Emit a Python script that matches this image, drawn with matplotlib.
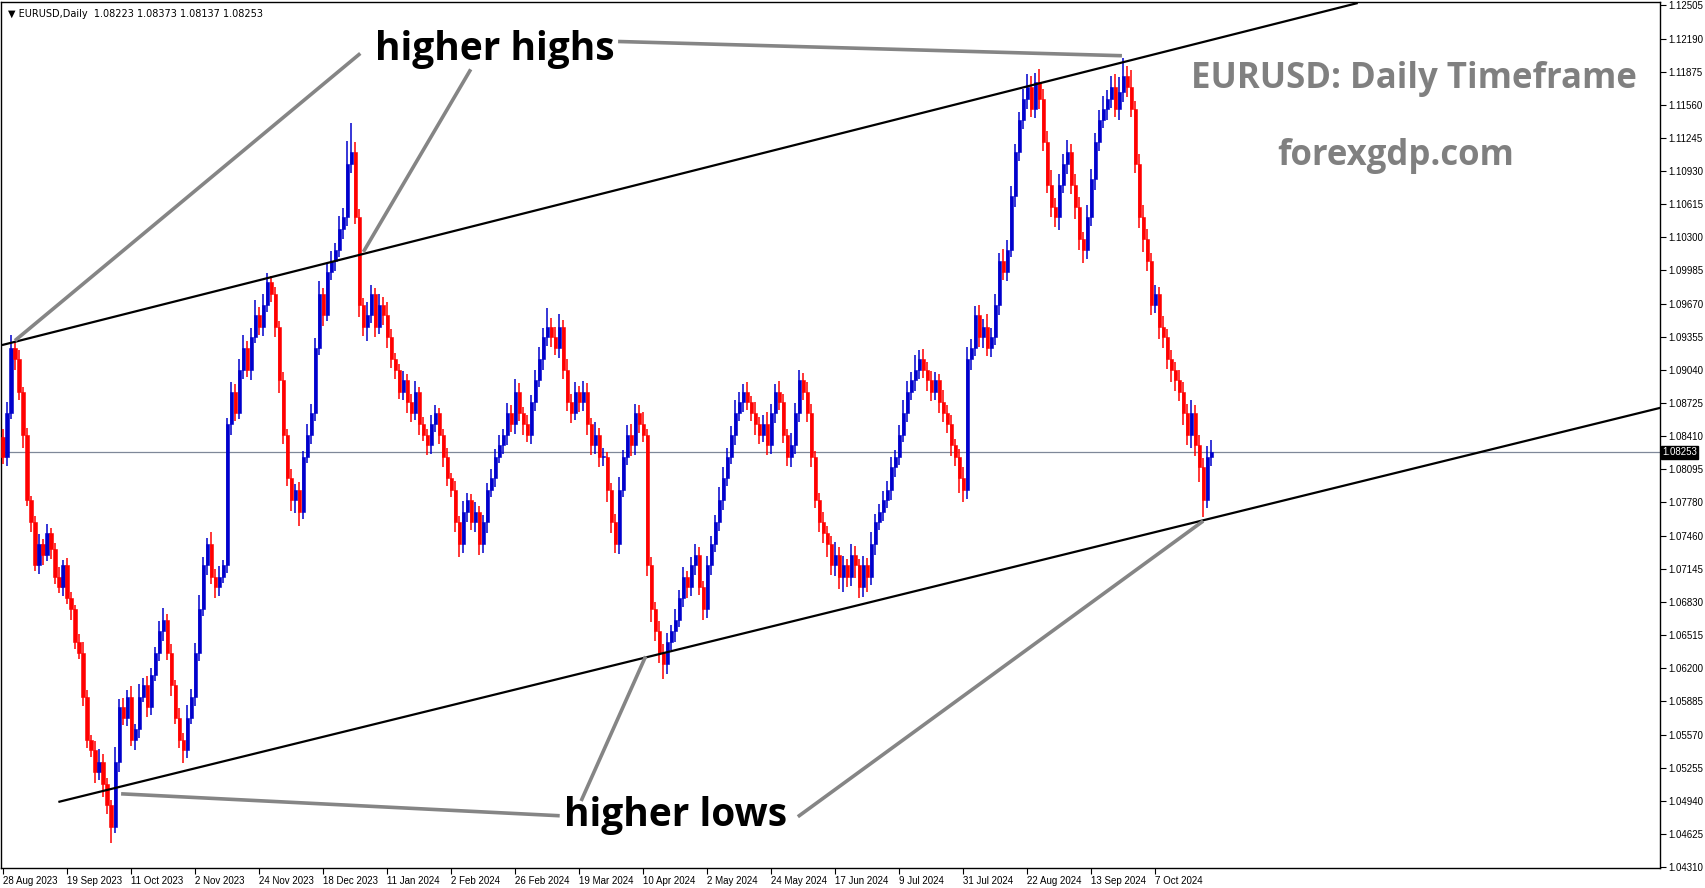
import numpy as np
import matplotlib.pyplot as plt

# daily closes, EURUSD, 28 Aug 2023 .. 25 Oct 2024
closes = [
    1.0821, 1.0863, 1.0925, 1.0914, 1.0883, 1.0842, 1.0780, 1.0759, 1.0718, 1.0738,
    1.0728, 1.0749, 1.0733, 1.0707, 1.0697, 1.0718, 1.0687, 1.0676, 1.0645, 1.0635,
    1.0593, 1.0552, 1.0542, 1.0521, 1.0531, 1.0510, 1.0490, 1.0469, 1.0531, 1.0583,
    1.0573, 1.0593, 1.0552, 1.0562, 1.0593, 1.0604, 1.0583, 1.0614, 1.0635, 1.0655,
    1.0666, 1.0635, 1.0604, 1.0573, 1.0552, 1.0542, 1.0573, 1.0593, 1.0635, 1.0676,
    1.0718, 1.0738, 1.0707, 1.0697, 1.0707, 1.0718, 1.0852, 1.0883, 1.0863, 1.0904,
    1.0925, 1.0904, 1.0935, 1.0956, 1.0945, 1.0966, 1.0987, 1.0976, 1.0945, 1.0894,
    1.0842, 1.0801, 1.0780, 1.0790, 1.0769, 1.0821, 1.0842, 1.0863, 1.0925, 1.0976,
    1.0956, 1.0997, 1.1007, 1.1018, 1.1038, 1.1049, 1.1100, 1.1111, 1.1049, 1.0966,
    1.0945, 1.0956, 1.0976, 1.0945, 1.0966, 1.0956, 1.0935, 1.0914, 1.0904, 1.0883,
    1.0894, 1.0873, 1.0863, 1.0883, 1.0852, 1.0842, 1.0832, 1.0852, 1.0863, 1.0842,
    1.0821, 1.0801, 1.0790, 1.0759, 1.0738, 1.0769, 1.0780, 1.0759, 1.0769, 1.0738,
    1.0759, 1.0790, 1.0801, 1.0821, 1.0832, 1.0842, 1.0863, 1.0852, 1.0883, 1.0863,
    1.0852, 1.0842, 1.0873, 1.0894, 1.0914, 1.0935, 1.0945, 1.0935, 1.0925, 1.0945,
    1.0904, 1.0873, 1.0863, 1.0883, 1.0873, 1.0883, 1.0852, 1.0832, 1.0842, 1.0821,
    1.0821, 1.0790, 1.0759, 1.0738, 1.0790, 1.0821, 1.0842, 1.0832, 1.0863, 1.0852,
    1.0842, 1.0718, 1.0676, 1.0655, 1.0635, 1.0624, 1.0645, 1.0655, 1.0666, 1.0687,
    1.0707, 1.0697, 1.0718, 1.0728, 1.0697, 1.0676, 1.0718, 1.0738, 1.0759, 1.0780,
    1.0801, 1.0821, 1.0842, 1.0863, 1.0873, 1.0883, 1.0873, 1.0863, 1.0852, 1.0842,
    1.0852, 1.0832, 1.0863, 1.0883, 1.0873, 1.0842, 1.0821, 1.0832, 1.0863, 1.0894,
    1.0883, 1.0863, 1.0821, 1.0780, 1.0759, 1.0749, 1.0738, 1.0718, 1.0728, 1.0707,
    1.0718, 1.0707, 1.0728, 1.0718, 1.0697, 1.0718, 1.0707, 1.0738, 1.0759, 1.0769,
    1.0780, 1.0790, 1.0811, 1.0821, 1.0842, 1.0863, 1.0883, 1.0894, 1.0904, 1.0914,
    1.0904, 1.0894, 1.0883, 1.0894, 1.0873, 1.0863, 1.0852, 1.0832, 1.0821, 1.0801,
    1.0790, 1.0914, 1.0925, 1.0956, 1.0935, 1.0945, 1.0925, 1.0935, 1.0966, 1.1007,
    1.0997, 1.1018, 1.1069, 1.1111, 1.1142, 1.1162, 1.1173, 1.1152, 1.1178, 1.1162,
    1.1121, 1.1080, 1.1059, 1.1049, 1.1080, 1.1100, 1.1111, 1.1080, 1.1059, 1.1028,
    1.1018, 1.1049, 1.1085, 1.1121, 1.1142, 1.1152, 1.1162, 1.1173, 1.1152, 1.1168,
    1.1183, 1.1173, 1.1152, 1.1100, 1.1049, 1.1028, 1.1007, 1.0966, 1.0976, 1.0945,
    1.0935, 1.0914, 1.0904, 1.0894, 1.0883, 1.0863, 1.0842, 1.0863, 1.0832, 1.0811,
    1.0780, 1.0821, 1.08253,
]
first_open = 1.0840

# wick lengths in pips above / below the body
wick_up = [
    8, 10, 12, 6, 9, 5, 7, 4, 6, 10,
    5, 8, 4, 6, 9, 5, 7, 6, 4, 8,
    10, 6, 5, 9, 12, 7, 6, 5, 14, 8,
    9, 6, 10, 5, 12, 7, 9, 6, 5, 10,
    11, 6, 8, 5, 9, 6, 12, 7, 9, 14,
    8, 6, 12, 7, 10, 5, 6, 9, 7, 10,
    12, 6, 9, 14, 8, 10, 9, 6, 7, 5,
    8, 6, 9, 5, 7, 6, 10, 8, 9, 12,
    6, 8, 10, 7, 12, 9, 22, 28, 10, 8,
    6, 12, 9, 6, 10, 7, 12, 8, 6, 5,
    9, 6, 8, 10, 5, 7, 6, 9, 7, 5,
    6, 9, 5, 8, 6, 10, 7, 6, 9, 5,
    7, 6, 9, 8, 10, 6, 9, 7, 12, 8,
    6, 9, 7, 10, 12, 9, 18, 8, 10, 12,
    6, 10, 8, 9, 6, 10, 8, 6, 12, 7,
    9, 5, 6, 8, 12, 7, 9, 10, 8, 7,
    12, 6, 8, 7, 10, 8, 9, 6, 10, 7,
    9, 6, 8, 10, 7, 6, 9, 8, 7, 12,
    10, 9, 8, 12, 10, 7, 9, 6, 10, 7,
    9, 12, 8, 7, 10, 8, 6, 12, 9, 10,
    7, 9, 8, 6, 7, 10, 6, 8, 12, 7,
    9, 6, 10, 8, 6, 9, 7, 12, 8, 7,
    9, 8, 10, 7, 9, 12, 10, 8, 14, 9,
    10, 7, 9, 8, 6, 12, 7, 9, 6, 8,
    10, 12, 8, 9, 10, 7, 12, 9, 10, 8,
    12, 9, 10, 8, 7, 9, 12, 10, 8, 12,
    9, 10, 14, 8, 10, 9, 12, 8, 10, 9,
    7, 12, 10, 8, 9, 12, 8, 10, 12, 14,
    18, 10, 16, 8, 9, 12, 10, 8, 9, 7,
    10, 8, 9, 7, 10, 9, 8, 12, 7, 10,
    9, 10, 12,
]
wick_dn = [
    7, 9, 6, 10, 8, 12, 6, 9, 5, 8,
    10, 6, 9, 7, 5, 8, 6, 10, 7, 6,
    9, 8, 6, 10, 7, 12, 9, 15, 6, 10,
    7, 8, 6, 10, 8, 5, 9, 7, 6, 8,
    9, 7, 10, 6, 8, 12, 7, 6, 9, 8,
    6, 9, 7, 10, 8, 6, 7, 10, 8, 6,
    9, 7, 10, 6, 8, 9, 7, 8, 10, 12,
    9, 8, 10, 12, 14, 7, 6, 9, 8, 7,
    10, 6, 8, 9, 7, 10, 8, 9, 6, 12,
    9, 14, 8, 10, 7, 9, 10, 8, 9, 7,
    8, 10, 9, 7, 10, 6, 9, 8, 7, 9,
    10, 8, 7, 9, 12, 8, 10, 7, 9, 10,
    8, 10, 7, 9, 6, 8, 10, 7, 9, 8,
    10, 7, 9, 8, 6, 10, 8, 9, 7, 10,
    9, 8, 10, 7, 9, 8, 10, 9, 8, 10,
    9, 12, 10, 8, 9, 7, 8, 10, 9, 8,
    7, 10, 12, 9, 10, 14, 9, 8, 10, 7,
    9, 10, 8, 9, 7, 10, 8, 9, 7, 8,
    9, 8, 7, 10, 8, 9, 7, 8, 10, 9,
    7, 9, 8, 10, 7, 8, 9, 10, 8, 9,
    8, 9, 10, 8, 9, 10, 12, 9, 10, 12,
    14, 10, 9, 12, 10, 9, 14, 8, 10, 7,
    9, 8, 10, 9, 8, 7, 9, 8, 10, 9,
    8, 10, 9, 8, 10, 9, 8, 10, 9, 14,
    12, 9, 10, 8, 9, 10, 8, 9, 7, 10,
    8, 9, 7, 10, 8, 9, 10, 8, 9, 10,
    9, 8, 10, 9, 12, 8, 10, 9, 12, 10,
    12, 9, 8, 10, 9, 8, 10, 9, 8, 10,
    9, 10, 8, 9, 10, 12, 9, 10, 8, 12,
    10, 9, 12, 10, 9, 12, 10, 12, 10, 14,
    16, 8, 9,
]

date_labels = ['28 Aug 2023', '19 Sep 2023', '11 Oct 2023', '2 Nov 2023', '24 Nov 2023',
               '18 Dec 2023', '11 Jan 2024', '2 Feb 2024', '26 Feb 2024', '19 Mar 2024',
               '10 Apr 2024', '2 May 2024', '24 May 2024', '17 Jun 2024', '9 Jul 2024',
               '31 Jul 2024', '22 Aug 2024', '13 Sep 2024', '7 Oct 2024']
date_bars = list(range(0, 289, 16))
price_ticks = [1.04310, 1.04625, 1.04940, 1.05255, 1.05570, 1.05885, 1.06200, 1.06515,
               1.06830, 1.07145, 1.07460, 1.07780, 1.08095, 1.08410, 1.08725, 1.09040,
               1.09355, 1.09670, 1.09985, 1.10300, 1.10615, 1.10930, 1.11245, 1.11560,
               1.11875, 1.12190, 1.12505]
last_price = 1.08253

# channel lines (bar index, price)
upper_line = ([0, 338.3], [1.09277, 1.12526])
lower_line = ([14.1, 414.1], [1.04931, 1.08677])

closes = np.array(closes)
opens = np.concatenate([[first_open], closes[:-1]])
highs = np.maximum(opens, closes) + np.array(wick_up) * 1e-4
lows = np.minimum(opens, closes) - np.array(wick_dn) * 1e-4
idx = np.arange(len(closes))

fig = plt.figure(figsize=(17.05, 8.88), dpi=100)
ax = fig.add_axes([0.0006, 0.0225, 0.973, 0.975])
ax.set_xlim(-0.5, 414.1)
ax.set_ylim(1.04300, 1.12536)

up = closes >= opens
col = np.where(up, '#0000cc', '#ff0000')
ax.vlines(idx, lows, highs, colors=col, linewidth=1.1, zorder=3)
body_h = np.maximum(np.abs(closes - opens), 0.00008)
ax.bar(idx, body_h, bottom=np.minimum(opens, closes), width=0.78, color=col,
       edgecolor=col, linewidth=0.4, zorder=4)

ax.axhline(last_price, color='#7f8899', linewidth=0.9, zorder=2)
ax.plot(*upper_line, color='black', linewidth=1.6, zorder=5)
ax.plot(*lower_line, color='black', linewidth=1.6, zorder=5)

# annotation pointers, in pixel fractions of the axes
def frac(x, y):
    return ((x * 1.0875 - 1) / 1659, 1 - (y * 1.0875 - 2) / 866)

gray = '#858585'
for (x0, y0), (x1, y1) in [((330, 50), (15, 312)), ((432, 65), (335, 230)),
                           ((570, 38), (1030, 51)), ((513, 750), (113, 730)),
                           ((535, 735), (593, 605)), ((735, 750), (1105, 480))]:
    a, b = frac(x0, y0)
    c, d = frac(x1, y1)
    ax.plot([a, c], [b, d], color=gray, linewidth=2.6, transform=ax.transAxes, zorder=6)

font = ['Open Sans', 'DejaVu Sans']
ax.text(*frac(345, 45), 'higher highs', transform=ax.transAxes, fontsize=28,
        fontweight='bold', family=font, va='center', ha='left', zorder=7)
ax.text(*frac(519, 750), 'higher lows', transform=ax.transAxes, fontsize=28,
        fontweight='bold', family=font, va='center', ha='left', zorder=7)
ax.text(*frac(1300, 72), 'EURUSD: Daily Timeframe', transform=ax.transAxes, fontsize=25,
        fontweight='bold', family=font, color='#808080', va='center', ha='center')
ax.text(*frac(1283, 143), 'forexgdp.com', transform=ax.transAxes, fontsize=25,
        fontweight='bold', family=font, color='#808080', va='center', ha='center')
ax.text(0.004, 0.992, '\u25bc EURUSD,Daily  1.08223 1.08373 1.08137 1.08253',
        transform=ax.transAxes, fontsize=7, va='top', ha='left')

small = 'Liberation Sans'
ax.yaxis.tick_right()
ax.set_yticks(price_ticks)
ax.set_yticklabels([f'{p:.5f}' for p in price_ticks], fontsize=7, family=small)
ax.tick_params(axis='y', length=4, width=0.8, pad=2)
ax.set_xticks(date_bars)
ax.set_xticklabels(date_labels, fontsize=7, ha='left', family=small)
ax.tick_params(axis='x', length=4, width=0.8, pad=2)
ax.text(1.0012, last_price, f'{last_price:.5f}', transform=ax.get_yaxis_transform(),
        fontsize=7, family=small, color='white', va='center', ha='left', zorder=10,
        bbox=dict(boxstyle='square,pad=0.15', fc='black', ec='black'))
for s in ax.spines.values():
    s.set_linewidth(1)

fig.savefig('out.png', dpi=100)
